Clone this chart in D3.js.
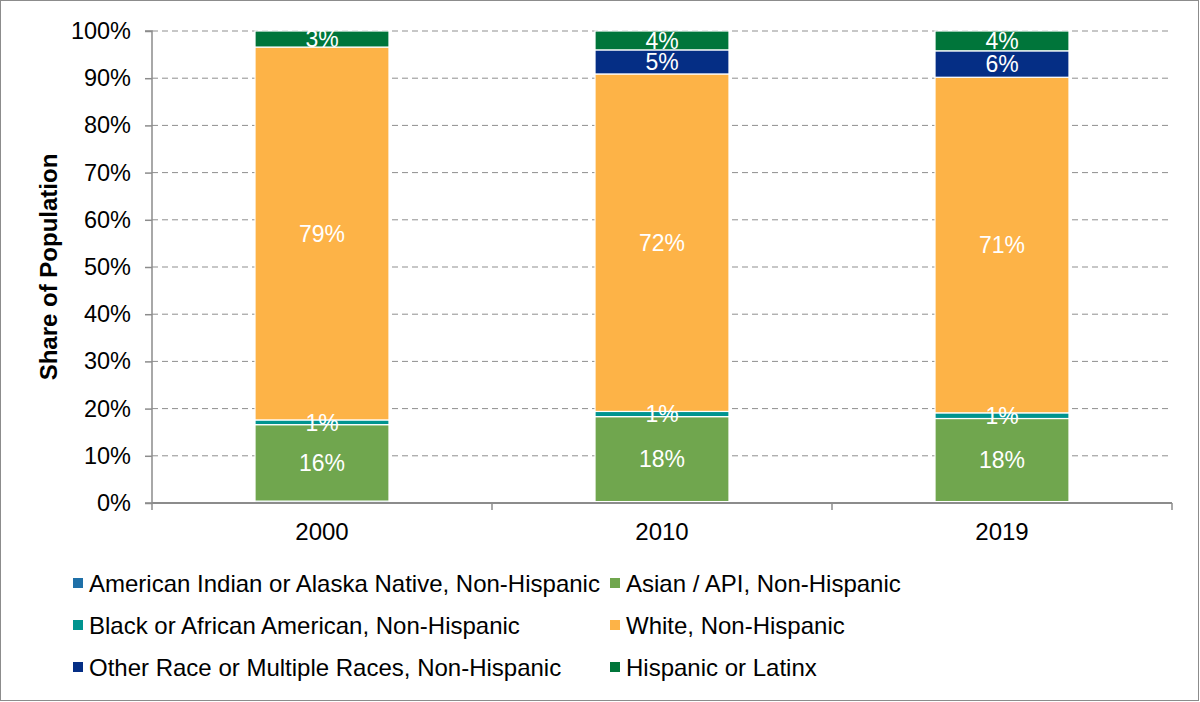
<!DOCTYPE html>
<html><head><meta charset="utf-8">
<script src="https://cdn.jsdelivr.net/npm/d3@7"></script>
<style>body{margin:0;background:#fff}svg{display:block;font-family:"Liberation Sans",Arial,sans-serif}</style>
</head><body><svg id="c" width="1200" height="702"></svg>
<script>
const years = ["2000","2010","2019"];
const seriesNames = ["American Indian or Alaska Native, Non-Hispanic","Asian / API, Non-Hispanic","Black or African American, Non-Hispanic","White, Non-Hispanic","Other Race or Multiple Races, Non-Hispanic","Hispanic or Latinx"];
const seriesColors = ["#1f70a8","#70a64e","#00948f","#fdb347","#052e85","#00753a"];
const aian = [0.4,0.3,0.3];
const asian = [16.2,18.0,17.6];
const black = [1.0,1.1,1.2];
const white = [79.0,71.5,71.1];
const other = [0,5.1,5.6];
const hispanic = [3.4,4.0,4.2];
const showLabel = [false,true,true,true,true,true];
const yTicks = [0,10,20,30,40,50,60,70,80,90,100];

const svg = d3.select("#c");
svg.append("rect").attr("x",0.5).attr("y",0.5).attr("width",1198).attr("height",700).attr("fill","none").attr("stroke","#8c8c8c");

const M = {l:152, r:1172, t:31, b:503};
const x = d3.scaleBand().domain(years).range([M.l,M.r]).paddingInner(0.606).paddingOuter(0.303);
const y = d3.scaleLinear().domain([0,100]).range([M.b,M.t]);

const vals = [aian,asian,black,white,other,hispanic];
const rows = years.map((yr,i)=>{const o={year:yr}; seriesNames.forEach((s,j)=>o[s]=vals[j][i]); return o;});
const stack = d3.stack().keys(seriesNames)(rows);

// gridlines
svg.append("g").selectAll("line").data(yTicks.filter(t=>t>0)).join("line")
  .attr("x1",M.l).attr("x2",M.r).attr("y1",d=>y(d)).attr("y2",d=>y(d))
  .attr("stroke","#8f8f8f").attr("stroke-dasharray","6,4").attr("stroke-width",1);

// bars
const g = svg.append("g");
stack.forEach((layer,j)=>{
  g.append("g").selectAll("rect").data(layer.filter(d=>d[1]-d[0]>0)).join("rect")
    .attr("x",d=>x(d.data.year)).attr("width",x.bandwidth())
    .attr("y",d=>y(d[1])).attr("height",d=>y(d[0])-y(d[1]))
    .attr("fill",seriesColors[j]).attr("stroke","#fff").attr("stroke-width",1.2);
});
stack.forEach((layer,j)=>{
  if(!showLabel[j]) return;
  g.append("g").selectAll("text").data(layer.filter(d=>d[1]-d[0]>0)).join("text")
    .attr("x",d=>x(d.data.year)+x.bandwidth()/2).attr("y",d=>y((d[0]+d[1])/2))
    .attr("dy","0.36em").attr("text-anchor","middle").attr("fill","#fff").attr("font-size",23)
    .text(d=>Math.round(d[1]-d[0])+"%");
});

// y axis
const ya = svg.append("g").attr("transform",`translate(${M.l},0)`)
  .call(d3.axisLeft(y).tickValues(yTicks).tickFormat(d=>d+"%").tickSize(7).tickPadding(14));
ya.select(".domain").attr("stroke","#8c8c8c").attr("stroke-width",1.5).attr("d",`M-7,${M.t}H0V${M.b}H-7`);
ya.selectAll(".tick line").attr("stroke","#8c8c8c").attr("stroke-width",1.5);
ya.selectAll("text").attr("font-size",23.5).attr("fill","#000").attr("font-family","Liberation Sans, Arial, sans-serif");

// x axis
const xa = svg.append("g").attr("transform",`translate(0,${M.b})`);
xa.append("line").attr("x1",M.l).attr("x2",M.r).attr("y1",0).attr("y2",0).attr("stroke","#8c8c8c").attr("stroke-width",2);
const bounds = [M.l, ...years.map(yr=>x(yr)-x.step()*x.paddingInner()/2 + x.step())];
xa.selectAll("line.tk").data(bounds).join("line").attr("class","tk")
  .attr("x1",d=>d).attr("x2",d=>d).attr("y1",0).attr("y2",7).attr("stroke","#8c8c8c").attr("stroke-width",1.5);
xa.selectAll("text").data(years).join("text")
  .attr("x",d=>x(d)+x.bandwidth()/2).attr("y",37).attr("text-anchor","middle").attr("font-size",24).attr("fill","#000").text(d=>d);

// y label
svg.append("text").attr("transform","translate(57,267) rotate(-90)").attr("text-anchor","middle")
  .attr("font-size",24).attr("font-weight","bold").attr("fill","#000").text("Share of Population");

// legend
const legX = [73,610], legY = [583,625,667];
const leg = svg.append("g").selectAll("g").data(seriesNames).join("g")
  .attr("transform",(d,i)=>`translate(${legX[i%2]},${legY[Math.floor(i/2)]})`);
leg.append("rect").attr("x",0).attr("y",-5).attr("width",10).attr("height",10).attr("fill",(d,i)=>seriesColors[i]);
leg.append("text").attr("x",16).attr("y",0).attr("dy","0.36em").attr("font-size",24).attr("fill","#000").text(d=>d);
</script></body></html>
